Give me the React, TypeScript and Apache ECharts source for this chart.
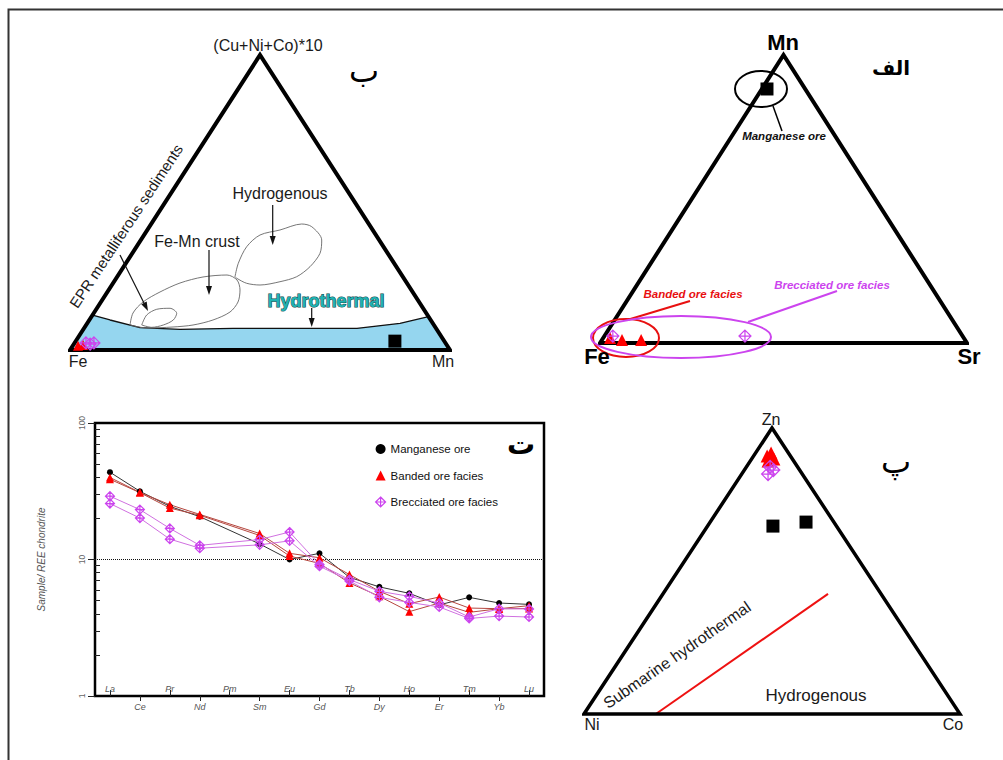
import React, { useEffect, useRef } from 'react';
import * as echarts from 'echarts';

// ---------- REE spider diagram (panel ت) ----------
const REE_ELEMENTS = ['La', 'Ce', 'Pr', 'Nd', 'Pm', 'Sm', 'Eu', 'Gd', 'Tb', 'Dy', 'Ho', 'Er', 'Tm', 'Yb', 'Lu'];
const MANGANESE_ORE_REE = [43.6, 31.6, 24.5, 20.6, null, 13.0, 10.0, 11.1, 7.4, 6.3, 5.65, 4.65, 5.28, 4.8, 4.69];
const BANDED_REE_A = [39.9, 31.0, 25.2, 21.4, null, 15.5, 11.1, 10.3, 7.76, 5.85, 4.75, 5.31, 4.41, 4.36, 4.59];
const BANDED_REE_B = [38.7, 30.9, 23.8, 21.1, null, 15.0, 10.6, 9.35, 6.74, 5.37, 4.15, 4.8, 4.1, 4.36, 4.38];
const BRECCIATED_REE_A = [29.1, 23.2, 16.9, 12.7, null, 14.0, 15.9, 9.19, 7.13, 5.85, 5.37, 4.8, 3.79, 4.36, 4.34];
const BRECCIATED_REE_B = [25.7, 20.1, 14.1, 12.1, null, 12.8, 13.7, 8.93, 6.97, 5.28, 4.85, 4.49, 3.7, 3.85, 3.79];
const Y_TICK_LABELS = ['1', '10', '100'];
const MINOR_TICK_VALUES = [2, 3, 4, 5, 6, 7, 8, 9, 20, 30, 40, 50, 60, 70, 80, 90];
const LEGEND_NAMES = ['Manganese ore', 'Banded ore facies', 'Brecciated ore facies'];

// ---------- Ternary panel ب : [Fe, Mn, (Cu+Ni+Co)*10] ----------
const PB_MANGANESE = [[13, 84, 3]];
const PB_BANDED = [[97.2, 1.4, 1.4], [95.7, 2.6, 1.7]];
const PB_BRECCIATED = [[94.6, 3.0, 2.4], [93.7, 4.3, 2.0], [92.5, 5.1, 2.4]];
// field outlines in triangle-plane coordinates [x, y] (0..1)
const HYDROTHERMAL_FIELD = [[0, 0], [0.0593, 0.1186], [0.1053, 0.1017], [0.1842, 0.0756], [0.2895, 0.0702], [0.4289, 0.0736], [0.6316, 0.0736], [0.7553, 0.0736], [0.8684, 0.0905], [0.9435, 0.1129], [1, 0]];
const FE_MN_CRUST_FIELD = [[0.1579, 0.0847], [0.1658, 0.1254], [0.1921, 0.1627], [0.2368, 0.1966], [0.2895, 0.2271], [0.35, 0.2475], [0.4132, 0.2542], [0.4395, 0.2373], [0.4474, 0.2034], [0.4421, 0.1627], [0.4211, 0.1288], [0.3763, 0.1017], [0.3237, 0.0847], [0.2711, 0.078], [0.2026, 0.0746], [0.1579, 0.0847]];
const EPR_FIELD = [[0.1887, 0.0847], [0.2018, 0.1186], [0.2282, 0.138], [0.2632, 0.1414], [0.2808, 0.1244], [0.2718, 0.1017], [0.2455, 0.0847], [0.215, 0.0769], [0.1887, 0.0847]];
const HYDROGENOUS_FIELD = [[0.4342, 0.2485], [0.4429, 0.2939], [0.465, 0.3502], [0.5, 0.3898], [0.5526, 0.4068], [0.6097, 0.4271], [0.6361, 0.418], [0.6624, 0.3729], [0.6579, 0.3278], [0.6316, 0.2824], [0.5966, 0.2485], [0.5526, 0.2315], [0.5, 0.2203], [0.465, 0.2261], [0.4387, 0.2431], [0.4342, 0.2485]];

// ---------- Ternary panel الف : [Fe, Sr, Mn] ----------
const PA_MANGANESE = [[10.4, 1.4, 88.2]];
const PA_BANDED = [[96.4, 1.9, 1.7], [93.5, 5.5, 1.0], [88.3, 10.7, 1.0]];
const PA_BRECCIATED = [[95.3, 2.3, 2.4], [59.3, 38.3, 2.4]];

// ---------- Ternary panel پ : [Ni, Co, Zn] ----------
const PP_MANGANESE = [[16.9, 17.4, 65.7], [7.4, 25.5, 67.1]];
const PP_BANDED = [[6.2, 3.6, 90.2], [4.6, 4.1, 91.3], [4.9, 5.9, 89.2], [6.8, 4.7, 88.5]];
const PP_BRECCIATED = [[9.1, 7.0, 83.9], [7.0, 7.7, 85.3], [7.3, 6.3, 86.4]];
const PP_BOUNDARY = [[80.9, 19.1, 0], [14.1, 43.9, 42.0]];

const TRIANGLE = [[0, 0], [1, 0], [0.5, 1], [0, 0], [1, 0]];

const toXY = (t: number[]) => {
  const s = t[0] + t[1] + t[2];
  return [(t[1] + t[2] / 2) / s, t[2] / s];
};

const CROSS_DIAMOND = 'path://M0,-10 L10,0 L0,10 L-10,0 Z M0,-10 L0,10 M-10,0 L10,0';
const RED = '#ff0000';
const MAGENTA = '#cc44ee';
const FONT = 'Liberation Sans, Arial, sans-serif';
const AR_FONT = 'DejaVu Sans, sans-serif';

const txt = (text: string, x: number, y: number, o: any = {}) => ({
  type: 'text',
  x,
  y,
  rotation: o.rot || 0,
  z: 100,
  style: {
    text,
    fontSize: o.size || 16,
    fontFamily: o.family || FONT,
    fontWeight: o.weight || 'normal',
    fontStyle: o.style || 'normal',
    fill: o.fill || '#1a1a1a',
    align: o.align || 'center',
    verticalAlign: 'middle',
    stroke: o.stroke,
    lineWidth: o.lw || 0,
  },
});

const arrow = (x1: number, y1: number, x2: number, y2: number) => {
  const a = Math.atan2(y2 - y1, x2 - x1);
  const L = 9;
  const W = 3;
  const bx = x2 - L * Math.cos(a);
  const by = y2 - L * Math.sin(a);
  const px = -Math.sin(a) * W;
  const py = Math.cos(a) * W;
  return [
    { type: 'line', z: 50, shape: { x1, y1, x2: bx, y2: by }, style: { stroke: '#111', lineWidth: 1.2 } },
    { type: 'polygon', z: 50, shape: { points: [[x2, y2], [bx + px, by + py], [bx - px, by - py]] }, style: { fill: '#111' } },
  ];
};

const seg = (x1: number, y1: number, x2: number, y2: number, color: string, w: number) => ({
  type: 'line', z: 50, shape: { x1, y1, x2, y2 }, style: { stroke: color, lineWidth: w },
});

const ell = (cx: number, cy: number, rx: number, ry: number, color: string) => ({
  type: 'ellipse', z: 50, shape: { cx, cy, rx, ry }, style: { fill: 'none', stroke: color, lineWidth: 2 },
});

const triSeries = (g: number, w: number) => ({
  type: 'line', xAxisIndex: g, yAxisIndex: g, data: TRIANGLE, symbol: 'none', clip: false, silent: true, z: 5,
  lineStyle: { color: '#000', width: w, join: 'miter' },
});

const outline = (g: number, data: number[][]) => ({
  type: 'line', xAxisIndex: g, yAxisIndex: g, data, symbol: 'none', smooth: 0.3, silent: true, z: 3,
  lineStyle: { color: '#666', width: 0.9 },
});

const pts = (g: number, name: string, data: number[][], symbol: string, size: number, style: any) => ({
  type: 'scatter', name, xAxisIndex: g, yAxisIndex: g, data: data.map(toXY), symbol, symbolSize: size, clip: false, z: 10,
  itemStyle: { opacity: 1, ...style },
});

const reeLine = (name: string, data: (number | null)[], symbol: string, size: number, lineColor: string, itemStyle: any, extra: any = {}) => ({
  type: 'line', name, xAxisIndex: 3, yAxisIndex: 3, data, connectNulls: true, symbol, symbolSize: size,
  lineStyle: { color: lineColor, width: 1 }, itemStyle, z: 10, ...extra,
});

export default function App() {
  const ref = useRef<HTMLDivElement>(null);

  useEffect(() => {
    if (!ref.current) return;
    const chart = echarts.init(ref.current, null, { renderer: 'svg' });
    const hiddenAxes = (n: number) => Array.from({ length: n }, (_, i) => ({ gridIndex: i, type: 'value', min: 0, max: 1, show: false }));

    const magStyle = { color: 'rgba(0,0,0,0)', borderColor: MAGENTA, borderWidth: 1.2 };

    const option: any = {
      animation: false,
      textStyle: { fontFamily: FONT },
      grid: [
        { left: 70, top: 55, width: 380, height: 295, show: false, outerBoundsMode: 'none' },
        { left: 600, top: 55, width: 367, height: 288, show: false, outerBoundsMode: 'none' },
        { left: 584, top: 428, width: 376, height: 286, show: false, outerBoundsMode: 'none' },
        { left: 95, top: 423, width: 449, height: 273, show: true, borderColor: '#000', borderWidth: 2.5, backgroundColor: 'transparent', outerBoundsMode: 'none' },
      ],
      xAxis: [
        ...hiddenAxes(3),
        {
          gridIndex: 3, type: 'category', data: REE_ELEMENTS, position: 'bottom', boundaryGap: true,
          axisLine: { show: false }, splitLine: { show: false },
          axisTick: { show: true, inside: true, alignWithLabel: true, length: 6, interval: (i: number) => i % 2 === 0, lineStyle: { color: '#222' } },
          axisLabel: { inside: true, interval: (i: number) => i % 2 === 0, margin: 3, fontSize: 9, fontStyle: 'italic', color: '#555' },
        },
        {
          gridIndex: 3, type: 'category', data: REE_ELEMENTS, position: 'bottom', boundaryGap: true,
          axisLine: { show: false }, splitLine: { show: false },
          axisTick: { show: true, inside: false, alignWithLabel: true, length: 5, interval: (i: number) => i % 2 === 1, lineStyle: { color: '#222' } },
          axisLabel: { inside: false, interval: (i: number) => i % 2 === 1, margin: 6, fontSize: 9, fontStyle: 'italic', color: '#555' },
        },
      ],
      yAxis: [
        ...hiddenAxes(3),
        {
          gridIndex: 3, type: 'log', logBase: 10, min: 1, max: 100, position: 'left',
          name: 'Sample/ REE chondrite', nameLocation: 'middle', nameGap: 49, nameRotate: 90,
          nameTextStyle: { fontSize: 10, fontStyle: 'italic', color: '#555' },
          axisLine: { show: false }, splitLine: { show: false }, minorTick: { show: false },
          axisTick: { show: true, inside: false, length: 7, lineStyle: { color: '#222' } },
          axisLabel: { rotate: 90, fontSize: 8.5, color: '#666', margin: 9, formatter: (v: number) => Y_TICK_LABELS[Math.round(Math.log10(v))] },
        },
        {
          gridIndex: 3, type: 'value', min: 0, max: 2, position: 'left',
          axisLine: { show: false }, splitLine: { show: false }, axisLabel: { show: false },
          axisTick: { show: true, inside: true, length: 5, customValues: MINOR_TICK_VALUES.map((v) => Math.log10(v)), lineStyle: { color: '#222' } },
        },
      ],
      legend: {
        orient: 'vertical', left: 370, top: 438, itemGap: 14.5, itemWidth: 10, itemHeight: 10, itemTextGap: 5,
        textStyle: { fontSize: 11.5, color: '#111', fontFamily: FONT },
        data: [
          { name: LEGEND_NAMES[0], icon: 'circle', itemStyle: { color: '#000', borderWidth: 0 } },
          { name: LEGEND_NAMES[1], icon: 'triangle', itemStyle: { color: RED, borderWidth: 0 } },
          { name: LEGEND_NAMES[2], icon: CROSS_DIAMOND, itemStyle: magStyle },
        ],
        selectedMode: false,
      },
      series: [
        // REE lines
        reeLine(LEGEND_NAMES[0], MANGANESE_ORE_REE, 'circle', 6, '#333', { color: '#000' }, {
          markLine: {
            silent: true, symbol: 'none', label: { show: false },
            lineStyle: { type: 'dotted', color: '#111', width: 1 },
            data: [{ yAxis: 10 }],
          },
        }),
        reeLine(LEGEND_NAMES[1], BANDED_REE_A, 'triangle', 8, '#b5473f', { color: RED }),
        reeLine(LEGEND_NAMES[1], BANDED_REE_B, 'triangle', 8, '#b5473f', { color: RED }),
        reeLine(LEGEND_NAMES[2], BRECCIATED_REE_A, CROSS_DIAMOND, 9, '#d070e0', magStyle),
        reeLine(LEGEND_NAMES[2], BRECCIATED_REE_B, CROSS_DIAMOND, 9, '#d070e0', magStyle),

        // panel ب
        {
          type: 'line', xAxisIndex: 0, yAxisIndex: 0, data: HYDROTHERMAL_FIELD, symbol: 'none', silent: true, z: 1,
          lineStyle: { color: '#111', width: 1.3 }, areaStyle: { color: '#95d6ef', opacity: 1 },
        },
        outline(0, FE_MN_CRUST_FIELD),
        outline(0, EPR_FIELD),
        outline(0, HYDROGENOUS_FIELD),
        triSeries(0, 4),
        pts(0, 'b-banded', PB_BANDED, 'triangle', 10, { color: RED }),
        pts(0, 'b-brecciated', PB_BRECCIATED, CROSS_DIAMOND, 12, magStyle),
        pts(0, 'b-manganese', PB_MANGANESE, 'rect', 13, { color: '#000' }),

        // panel الف
        triSeries(1, 4),
        pts(1, 'a-banded', PA_BANDED, 'triangle', 12, { color: RED }),
        pts(1, 'a-brecciated', PA_BRECCIATED, CROSS_DIAMOND, 12, magStyle),
        pts(1, 'a-manganese', PA_MANGANESE, 'rect', 13, { color: '#000' }),

        // panel پ
        {
          type: 'line', xAxisIndex: 2, yAxisIndex: 2, data: PP_BOUNDARY.map(toXY), symbol: 'none', silent: true, z: 4,
          lineStyle: { color: '#ee1111', width: 2 },
        },
        triSeries(2, 3.5),
        pts(2, 'p-banded', PP_BANDED, 'triangle', 13, { color: RED }),
        pts(2, 'p-brecciated', PP_BRECCIATED, CROSS_DIAMOND, 13, magStyle),
        pts(2, 'p-manganese', PP_MANGANESE, 'rect', 13, { color: '#000' }),
      ],
      graphic: [
        { type: 'rect', z: 0, shape: { x: 8.5, y: 9.5, width: 1010, height: 770 }, style: { fill: 'none', stroke: '#333', lineWidth: 2 } },
        // panel ب
        txt('(Cu+Ni+Co)*10', 268, 45, { size: 16 }),
        txt('ب', 364, 71, { size: 32, family: AR_FONT, fill: '#000' }),
        txt('Fe', 78, 361, { size: 16 }),
        txt('Mn', 443, 361, { size: 16 }),
        txt('Hydrogenous', 280, 193, { size: 16 }),
        txt('Fe-Mn crust', 197, 241, { size: 16 }),
        txt('EPR metalliferous sediments', 126, 226, { size: 15, rot: (56.5 * Math.PI) / 180 }),
        txt('Hydrothermal', 326, 301, { size: 18, weight: 'bold', fill: '#1fb1b1', stroke: '#0d4545', lw: 1 }),
        ...arrow(272.7, 205, 272.7, 245),
        ...arrow(209, 250, 209, 295),
        ...arrow(120, 255, 148, 311),
        ...arrow(311.7, 308, 311.7, 327),
        // panel الف
        txt('Mn', 783, 42, { size: 22, weight: 'bold', fill: '#000' }),
        txt('Fe', 597, 356, { size: 22, weight: 'bold', fill: '#000' }),
        txt('Sr', 969, 356, { size: 22, weight: 'bold', fill: '#000' }),
        txt('الف', 891, 68, { size: 20, weight: 'bold', family: AR_FONT, fill: '#000' }),
        ell(761, 89, 26, 18, '#000'),
        seg(773, 106, 782, 131, '#000', 1.5),
        txt('Manganese ore', 784, 136, { size: 11.5, weight: 'bold', style: 'italic', fill: '#111' }),
        ell(626, 338, 33, 19, '#e81010'),
        seg(627, 320, 690, 301, '#e81010', 2),
        txt('Banded ore facies', 693, 294, { size: 11.5, weight: 'bold', style: 'italic', fill: '#e81010' }),
        ell(681, 337, 90, 21, MAGENTA),
        seg(748, 322, 837, 291, MAGENTA, 2),
        txt('Brecciated ore facies', 832, 285, { size: 11.5, weight: 'bold', style: 'italic', fill: MAGENTA }),
        // panel پ
        txt('Zn', 771, 419, { size: 16 }),
        txt('Ni', 592, 724, { size: 16 }),
        txt('Co', 953, 724, { size: 16 }),
        txt('پ', 896, 462, { size: 32, family: AR_FONT, fill: '#000' }),
        txt('Submarine hydrothermal', 677, 655, { size: 16, rot: (34.7 * Math.PI) / 180 }),
        txt('Hydrogenous', 816, 695, { size: 17 }),
        // panel ت
        txt('ت', 521, 444, { size: 28, weight: 'bold', family: AR_FONT, fill: '#000' }),
      ],
    };
    chart.setOption(option);
    return () => chart.dispose();
  }, []);

  return <div ref={ref} style={{ position: 'absolute', left: 0, top: 0, width: 1003, height: 760 }} />;
}
